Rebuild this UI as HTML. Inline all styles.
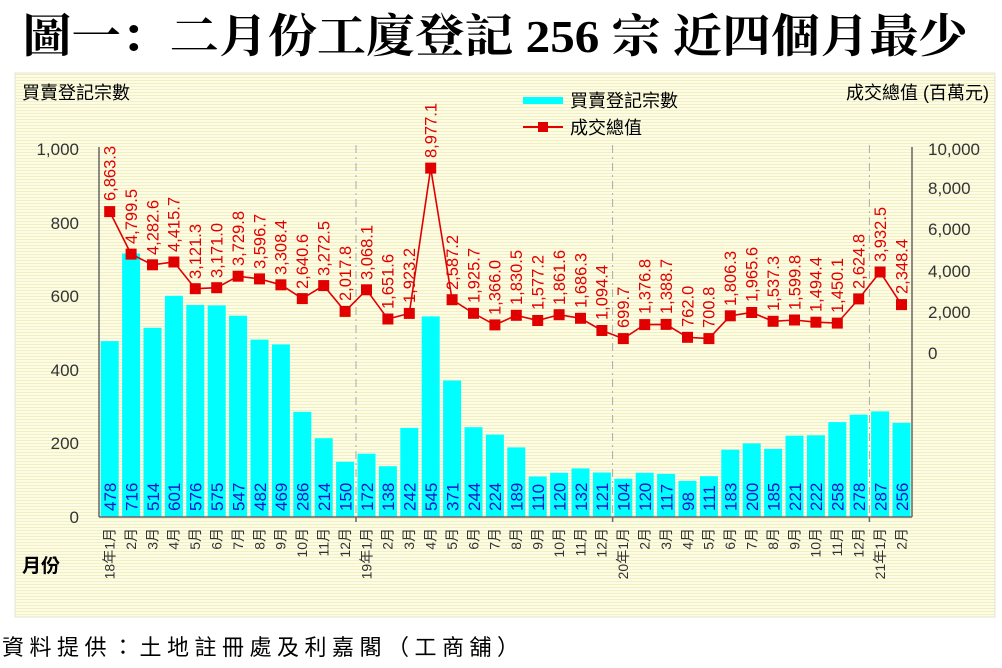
<!DOCTYPE html>
<html><head><meta charset="utf-8"><style>
html,body{margin:0;padding:0;background:#fff;width:1002px;height:668px;overflow:hidden}
svg{display:block}
.t{font-family:"Liberation Sans","Noto Sans CJK TC",sans-serif}
.bl{fill:#1414c8;font-size:17px}
.rl{fill:#e00000;font-size:16.5px}
.ml{fill:#333;font-size:14px}
</style></head><body>
<svg width="1002" height="668" viewBox="0 0 1002 668" class="t">
<defs><pattern id="st" width="4" height="3" patternUnits="userSpaceOnUse"><rect width="4" height="3" fill="#fdfde6"/><rect y="2" width="4" height="1" fill="#f2efc4"/></pattern></defs>
<text x="495" y="52" text-anchor="middle" font-family="'Liberation Serif','Noto Serif CJK SC',serif" font-weight="bold" font-size="46" textLength="945" lengthAdjust="spacingAndGlyphs" fill="#000">圖一：二月份工廈登記 256 宗  近四個月最少</text>
<rect x="15" y="73" width="980" height="544" fill="url(#st)" stroke="#e4e4d8"/>
<text x="22" y="99" font-size="18" fill="#000">買賣登記宗數</text>
<text x="989" y="99" font-size="18" fill="#000" text-anchor="end">成交總值 (百萬元)</text>
<rect x="523" y="97" width="40" height="7" fill="#00ffff"/>
<text x="570" y="107" font-size="18">買賣登記宗數</text>
<line x1="523" y1="127" x2="563" y2="127" stroke="#e00000" stroke-width="2"/><rect x="538" y="122" width="10" height="10" fill="#e00000"/>
<text x="570" y="134" font-size="18">成交總值</text>
<g font-size="17" fill="#333" text-anchor="end">
<text x="79" y="523">0</text><text x="79" y="449">200</text><text x="79" y="376">400</text><text x="79" y="302">600</text><text x="79" y="229">800</text><text x="79" y="155">1,000</text></g>
<g font-size="17" fill="#333">
<text x="928" y="359">0</text><text x="928" y="318">2,000</text><text x="928" y="277">4,000</text><text x="928" y="235">6,000</text><text x="928" y="194">8,000</text><text x="928" y="155">10,000</text></g>
<text x="22" y="572" font-size="19" font-weight="bold">月份</text>
<g stroke="#aaa" stroke-dasharray="8,4,2,4"><line x1="356" y1="145" x2="356" y2="517"/><line x1="612.6" y1="145" x2="612.6" y2="517"/><line x1="869.4" y1="145" x2="869.4" y2="517"/></g>
<g fill="#00ffff">
<rect x="100.7" y="341.1" width="18" height="175.9"/><rect x="122.1" y="253.5" width="18" height="263.5"/><rect x="143.5" y="327.8" width="18" height="189.2"/><rect x="164.9" y="295.8" width="18" height="221.2"/><rect x="186.3" y="305" width="18" height="212"/><rect x="207.7" y="305.4" width="18" height="211.6"/><rect x="229.1" y="315.7" width="18" height="201.3"/><rect x="250.5" y="339.6" width="18" height="177.4"/><rect x="271.9" y="344.4" width="18" height="172.6"/><rect x="293.3" y="411.8" width="18" height="105.2"/><rect x="314.7" y="438.2" width="18" height="78.8"/><rect x="336.1" y="461.8" width="18" height="55.2"/><rect x="357.5" y="453.7" width="18" height="63.3"/><rect x="378.9" y="466.2" width="18" height="50.8"/><rect x="400.3" y="427.9" width="18" height="89.1"/><rect x="421.7" y="316.4" width="18" height="200.6"/><rect x="443.1" y="380.5" width="18" height="136.5"/><rect x="464.5" y="427.2" width="18" height="89.8"/><rect x="485.9" y="434.6" width="18" height="82.4"/><rect x="507.3" y="447.4" width="18" height="69.6"/><rect x="528.7" y="476.5" width="18" height="40.5"/><rect x="550.1" y="472.8" width="18" height="44.2"/><rect x="571.5" y="468.4" width="18" height="48.6"/><rect x="592.9" y="472.5" width="18" height="44.5"/><rect x="614.3" y="478.7" width="18" height="38.3"/><rect x="635.7" y="472.8" width="18" height="44.2"/><rect x="657.1" y="473.9" width="18" height="43.1"/><rect x="678.5" y="480.9" width="18" height="36.1"/><rect x="699.9" y="476.2" width="18" height="40.8"/><rect x="721.3" y="449.7" width="18" height="67.3"/><rect x="742.7" y="443.4" width="18" height="73.6"/><rect x="764.1" y="448.9" width="18" height="68.1"/><rect x="785.5" y="435.7" width="18" height="81.3"/><rect x="806.9" y="435.3" width="18" height="81.7"/><rect x="828.3" y="422.1" width="18" height="94.9"/><rect x="849.7" y="414.7" width="18" height="102.3"/><rect x="871.1" y="411.4" width="18" height="105.6"/><rect x="892.5" y="422.8" width="18" height="94.2"/></g>
<g stroke="#666" stroke-width="1.5"><line x1="99" y1="147" x2="99" y2="517"/><line x1="912" y1="147" x2="912" y2="517"/><line x1="99" y1="517" x2="912" y2="517"/>
<line x1="356" y1="517" x2="356" y2="522"/><line x1="612.6" y1="517" x2="612.6" y2="522"/><line x1="869.4" y1="517" x2="869.4" y2="522"/></g>
<g class="bl">
<text transform="translate(116,511) rotate(-90)">478</text><text transform="translate(137.4,511) rotate(-90)">716</text><text transform="translate(158.8,511) rotate(-90)">514</text><text transform="translate(180.2,511) rotate(-90)">601</text><text transform="translate(201.6,511) rotate(-90)">576</text><text transform="translate(223,511) rotate(-90)">575</text><text transform="translate(244.4,511) rotate(-90)">547</text><text transform="translate(265.8,511) rotate(-90)">482</text><text transform="translate(287.2,511) rotate(-90)">469</text><text transform="translate(308.6,511) rotate(-90)">286</text><text transform="translate(330,511) rotate(-90)">214</text><text transform="translate(351.4,511) rotate(-90)">150</text><text transform="translate(372.8,511) rotate(-90)">172</text><text transform="translate(394.2,511) rotate(-90)">138</text><text transform="translate(415.6,511) rotate(-90)">242</text><text transform="translate(437,511) rotate(-90)">545</text><text transform="translate(458.4,511) rotate(-90)">371</text><text transform="translate(479.8,511) rotate(-90)">244</text><text transform="translate(501.2,511) rotate(-90)">224</text><text transform="translate(522.6,511) rotate(-90)">189</text><text transform="translate(544,511) rotate(-90)">110</text><text transform="translate(565.4,511) rotate(-90)">120</text><text transform="translate(586.8,511) rotate(-90)">132</text><text transform="translate(608.2,511) rotate(-90)">121</text><text transform="translate(629.6,511) rotate(-90)">104</text><text transform="translate(651,511) rotate(-90)">120</text><text transform="translate(672.4,511) rotate(-90)">117</text><text transform="translate(693.8,511) rotate(-90)">98</text><text transform="translate(715.2,511) rotate(-90)">111</text><text transform="translate(736.6,511) rotate(-90)">183</text><text transform="translate(758,511) rotate(-90)">200</text><text transform="translate(779.4,511) rotate(-90)">185</text><text transform="translate(800.8,511) rotate(-90)">221</text><text transform="translate(822.2,511) rotate(-90)">222</text><text transform="translate(843.6,511) rotate(-90)">258</text><text transform="translate(865,511) rotate(-90)">278</text><text transform="translate(886.4,511) rotate(-90)">287</text><text transform="translate(907.8,511) rotate(-90)">256</text></g>
<g class="ml" text-anchor="end">
<text transform="translate(114.5,528) rotate(-90)">18年1月</text><text transform="translate(135.9,528) rotate(-90)">2月</text><text transform="translate(157.3,528) rotate(-90)">3月</text><text transform="translate(178.7,528) rotate(-90)">4月</text><text transform="translate(200.1,528) rotate(-90)">5月</text><text transform="translate(221.5,528) rotate(-90)">6月</text><text transform="translate(242.9,528) rotate(-90)">7月</text><text transform="translate(264.3,528) rotate(-90)">8月</text><text transform="translate(285.7,528) rotate(-90)">9月</text><text transform="translate(307.1,528) rotate(-90)">10月</text><text transform="translate(328.5,528) rotate(-90)">11月</text><text transform="translate(349.9,528) rotate(-90)">12月</text><text transform="translate(371.3,528) rotate(-90)">19年1月</text><text transform="translate(392.7,528) rotate(-90)">2月</text><text transform="translate(414.1,528) rotate(-90)">3月</text><text transform="translate(435.5,528) rotate(-90)">4月</text><text transform="translate(456.9,528) rotate(-90)">5月</text><text transform="translate(478.3,528) rotate(-90)">6月</text><text transform="translate(499.7,528) rotate(-90)">7月</text><text transform="translate(521.1,528) rotate(-90)">8月</text><text transform="translate(542.5,528) rotate(-90)">9月</text><text transform="translate(563.9,528) rotate(-90)">10月</text><text transform="translate(585.3,528) rotate(-90)">11月</text><text transform="translate(606.7,528) rotate(-90)">12月</text><text transform="translate(628.1,528) rotate(-90)">20年1月</text><text transform="translate(649.5,528) rotate(-90)">2月</text><text transform="translate(670.9,528) rotate(-90)">3月</text><text transform="translate(692.3,528) rotate(-90)">4月</text><text transform="translate(713.7,528) rotate(-90)">5月</text><text transform="translate(735.1,528) rotate(-90)">6月</text><text transform="translate(756.5,528) rotate(-90)">7月</text><text transform="translate(777.9,528) rotate(-90)">8月</text><text transform="translate(799.3,528) rotate(-90)">9月</text><text transform="translate(820.7,528) rotate(-90)">10月</text><text transform="translate(842.1,528) rotate(-90)">11月</text><text transform="translate(863.5,528) rotate(-90)">12月</text><text transform="translate(884.9,528) rotate(-90)">21年1月</text><text transform="translate(906.3,528) rotate(-90)">2月</text></g>
<polyline fill="none" stroke="#e00000" stroke-width="1.6" points="109.7,211.6 131.1,254.1 152.5,264.8 173.9,262 195.3,288.7 216.7,287.7 238.1,276.2 259.5,278.9 280.9,284.8 302.3,298.6 323.7,285.6 345.1,311.4 366.5,289.8 387.9,319 409.3,313.4 430.7,168.1 452.1,299.7 473.5,313.3 494.9,324.9 516.3,315.3 537.7,320.5 559.1,314.7 580.5,318.3 601.9,330.5 623.3,338.6 644.7,324.6 666.1,324.4 687.5,337.3 708.9,338.6 730.3,315.8 751.7,312.5 773.1,321.3 794.5,320 815.9,322.2 837.3,323.1 858.7,298.9 880.1,272 901.5,304.6"/>
<g fill="#e00000">
<rect x="104.2" y="206.1" width="11" height="11"/><rect x="125.6" y="248.6" width="11" height="11"/><rect x="147" y="259.3" width="11" height="11"/><rect x="168.4" y="256.5" width="11" height="11"/><rect x="189.8" y="283.2" width="11" height="11"/><rect x="211.2" y="282.2" width="11" height="11"/><rect x="232.6" y="270.7" width="11" height="11"/><rect x="254" y="273.4" width="11" height="11"/><rect x="275.4" y="279.3" width="11" height="11"/><rect x="296.8" y="293.1" width="11" height="11"/><rect x="318.2" y="280.1" width="11" height="11"/><rect x="339.6" y="305.9" width="11" height="11"/><rect x="361" y="284.3" width="11" height="11"/><rect x="382.4" y="313.5" width="11" height="11"/><rect x="403.8" y="307.9" width="11" height="11"/><rect x="425.2" y="162.6" width="11" height="11"/><rect x="446.6" y="294.2" width="11" height="11"/><rect x="468" y="307.8" width="11" height="11"/><rect x="489.4" y="319.4" width="11" height="11"/><rect x="510.8" y="309.8" width="11" height="11"/><rect x="532.2" y="315" width="11" height="11"/><rect x="553.6" y="309.2" width="11" height="11"/><rect x="575" y="312.8" width="11" height="11"/><rect x="596.4" y="325" width="11" height="11"/><rect x="617.8" y="333.1" width="11" height="11"/><rect x="639.2" y="319.1" width="11" height="11"/><rect x="660.6" y="318.9" width="11" height="11"/><rect x="682" y="331.8" width="11" height="11"/><rect x="703.4" y="333.1" width="11" height="11"/><rect x="724.8" y="310.3" width="11" height="11"/><rect x="746.2" y="307" width="11" height="11"/><rect x="767.6" y="315.8" width="11" height="11"/><rect x="789" y="314.5" width="11" height="11"/><rect x="810.4" y="316.7" width="11" height="11"/><rect x="831.8" y="317.6" width="11" height="11"/><rect x="853.2" y="293.4" width="11" height="11"/><rect x="874.6" y="266.5" width="11" height="11"/><rect x="896" y="299.1" width="11" height="11"/></g>
<g class="rl">
<text transform="translate(115.5,201) rotate(-90)">6,863.3</text><text transform="translate(136.9,244) rotate(-90)">4,799.5</text><text transform="translate(158.3,255) rotate(-90)">4,282.6</text><text transform="translate(179.7,252) rotate(-90)">4,415.7</text><text transform="translate(201.1,279) rotate(-90)">3,121.3</text><text transform="translate(222.5,278) rotate(-90)">3,171.0</text><text transform="translate(243.9,266) rotate(-90)">3,729.8</text><text transform="translate(265.3,269) rotate(-90)">3,596.7</text><text transform="translate(286.7,275) rotate(-90)">3,308.4</text><text transform="translate(308.1,289) rotate(-90)">2,640.6</text><text transform="translate(329.5,276) rotate(-90)">3,272.5</text><text transform="translate(350.9,301) rotate(-90)">2,017.8</text><text transform="translate(372.3,280) rotate(-90)">3,068.1</text><text transform="translate(393.7,309) rotate(-90)">1,651.6</text><text transform="translate(415.1,303) rotate(-90)">1,923.2</text><text transform="translate(436.5,158) rotate(-90)">8,977.1</text><text transform="translate(457.9,290) rotate(-90)">2,587.2</text><text transform="translate(479.3,303) rotate(-90)">1,925.7</text><text transform="translate(500.7,315) rotate(-90)">1,366.0</text><text transform="translate(522.1,305) rotate(-90)">1,830.5</text><text transform="translate(543.5,310) rotate(-90)">1,577.2</text><text transform="translate(564.9,305) rotate(-90)">1,861.6</text><text transform="translate(586.3,308) rotate(-90)">1,686.3</text><text transform="translate(607.7,320) rotate(-90)">1,094.4</text><text transform="translate(629.1,328) rotate(-90)">699.7</text><text transform="translate(650.5,314) rotate(-90)">1,376.8</text><text transform="translate(671.9,314) rotate(-90)">1,388.7</text><text transform="translate(693.3,327) rotate(-90)">762.0</text><text transform="translate(714.7,328) rotate(-90)">700.8</text><text transform="translate(736.1,306) rotate(-90)">1,806.3</text><text transform="translate(757.5,302) rotate(-90)">1,965.6</text><text transform="translate(778.9,311) rotate(-90)">1,537.3</text><text transform="translate(800.3,310) rotate(-90)">1,599.8</text><text transform="translate(821.7,312) rotate(-90)">1,494.4</text><text transform="translate(843.1,313) rotate(-90)">1,450.1</text><text transform="translate(864.5,289) rotate(-90)">2,624.8</text><text transform="translate(885.9,262) rotate(-90)">3,932.5</text><text transform="translate(907.3,294) rotate(-90)">2,348.4</text></g>
<text x="2" y="655" font-size="22" letter-spacing="5.5" fill="#000">資料提供：土地註冊處及利嘉閣（工商舖）</text>
</svg>
</body></html>
